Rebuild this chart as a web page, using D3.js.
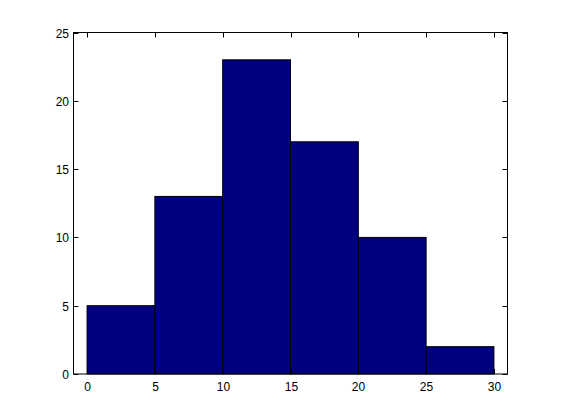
<!DOCTYPE html>
<html><head><meta charset="utf-8">
<script src="https://cdn.jsdelivr.net/npm/d3@7"></script>
<style>body{margin:0;background:#fff}svg{display:block}</style>
</head><body>
<script>
const binStarts = [0, 5, 10, 15, 20, 25];
const binWidth = 5;
const counts = [5, 13, 23, 17, 10, 2];
const xTicks = [0, 5, 10, 15, 20, 25, 30];
const yTicks = [0, 5, 10, 15, 20, 25];

const W = 561, H = 420;
const m = {left: 73.5, right: 561 - 507.5, top: 32.5, bottom: 420 - 374};
const svg = d3.select("body").append("svg").attr("width", W).attr("height", H);
const x = d3.scaleLinear().domain([-1, 31]).range([m.left, W - m.right]);
const y = d3.scaleLinear().domain([0, 25]).range([H - m.bottom, m.top]);

svg.append("rect").attr("x", m.left).attr("y", m.top)
  .attr("width", W - m.left - m.right).attr("height", H - m.top - m.bottom)
  .attr("fill", "#fff");

svg.selectAll("rect.bar").data(counts).join("rect").attr("class", "bar")
  .attr("x", (d, i) => x(binStarts[i]))
  .attr("width", (d, i) => x(binStarts[i] + binWidth) - x(binStarts[i]))
  .attr("y", d => y(d))
  .attr("height", d => y(0) - y(d))
  .attr("fill", "#000080").attr("stroke", "#000").attr("stroke-width", 1);

const font = "Liberation Sans, Arial, Helvetica, sans-serif";
const tl = 5;
const g = svg.append("g");
g.append("rect").attr("x", m.left).attr("y", m.top)
  .attr("width", W - m.left - m.right).attr("height", H - m.top - m.bottom)
  .attr("fill", "none").attr("stroke", "#000").attr("stroke-width", 1);

xTicks.forEach(t => {
  const px = Math.round(x(t)) + 0.5;
  g.append("line").attr("x1", px).attr("x2", px).attr("y1", y(0)).attr("y2", y(0) - tl).attr("stroke", "#000");
  g.append("line").attr("x1", px).attr("x2", px).attr("y1", y(25)).attr("y2", y(25) + tl).attr("stroke", "#000");
  g.append("text").attr("x", px).attr("y", y(0) + 16.5).attr("text-anchor", "middle")
    .attr("font-family", font).attr("font-size", 12).attr("fill", "#000").text(t);
});
yTicks.forEach(t => {
  const py = Math.round(y(t)) + 0.5;
  g.append("line").attr("x1", x(-1)).attr("x2", x(-1) + tl).attr("y1", py).attr("y2", py).attr("stroke", "#000");
  g.append("line").attr("x1", x(31)).attr("x2", x(31) - tl).attr("y1", py).attr("y2", py).attr("stroke", "#000");
  g.append("text").attr("x", x(-1) - 4.5).attr("y", py + 4.5).attr("text-anchor", "end")
    .attr("font-family", font).attr("font-size", 12).attr("fill", "#000").text(t);
});
</script>
</body></html>
